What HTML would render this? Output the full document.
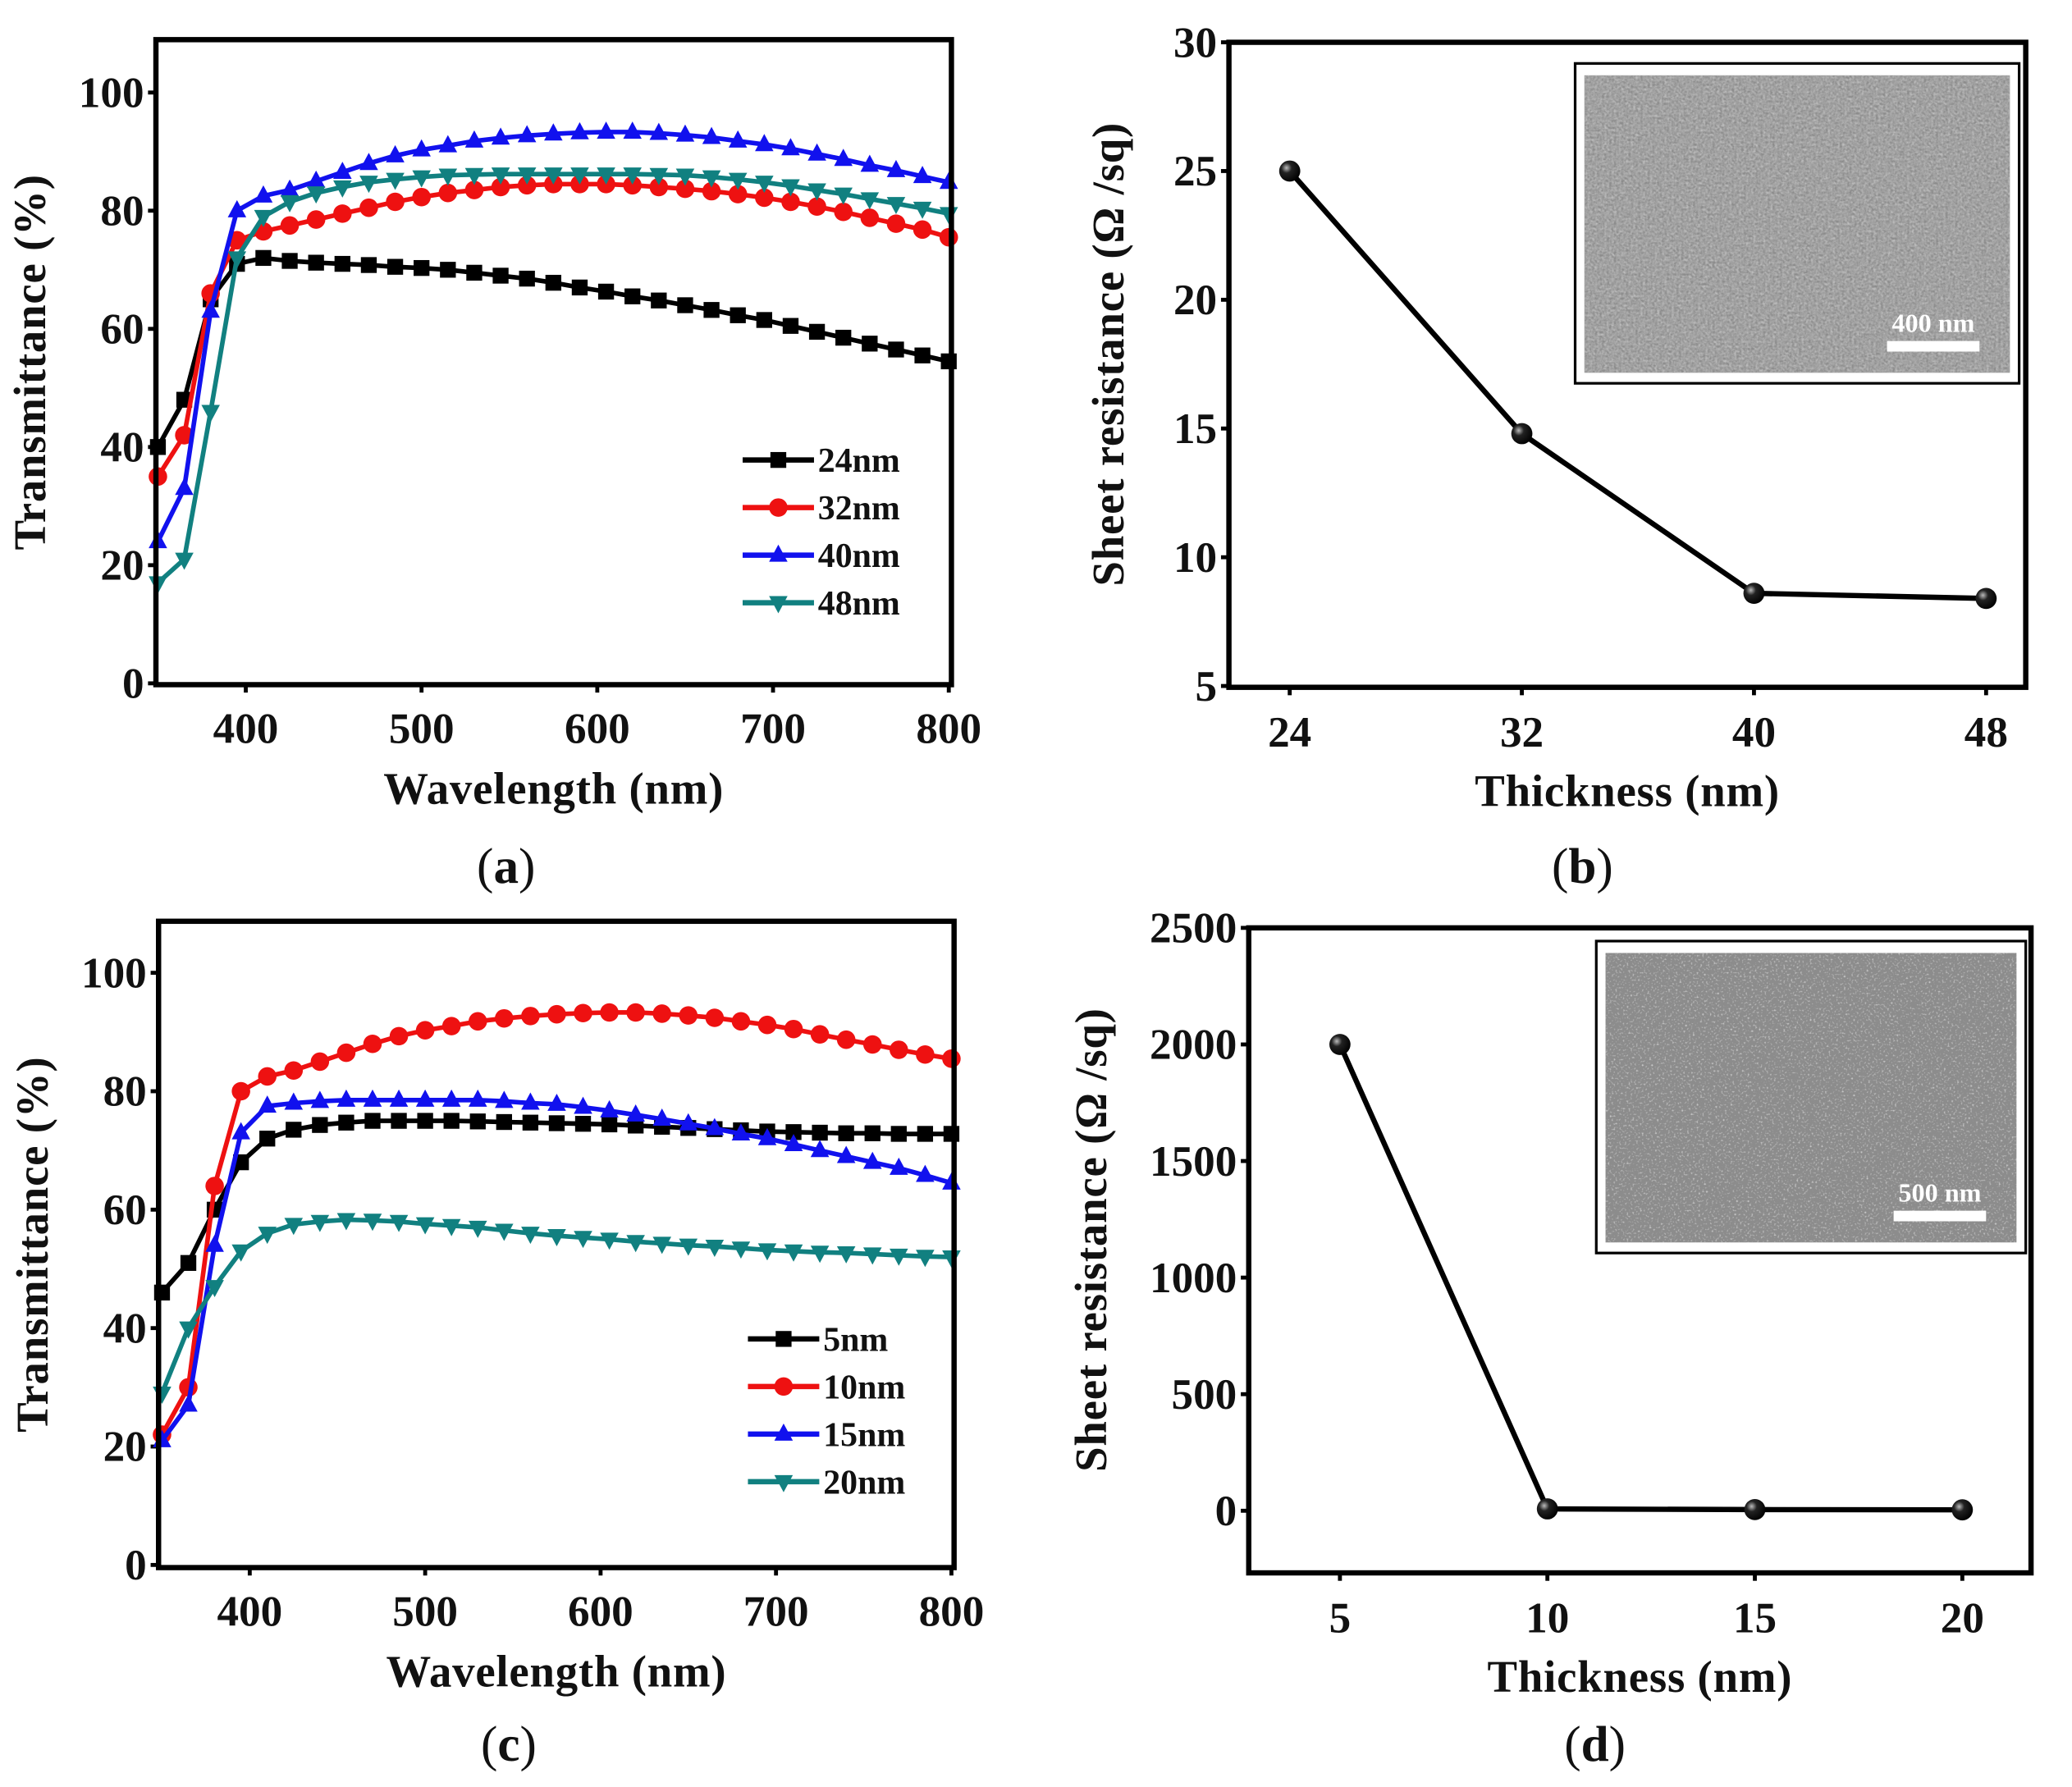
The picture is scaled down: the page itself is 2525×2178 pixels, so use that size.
<!DOCTYPE html>
<html><head><meta charset="utf-8"><style>
html,body{margin:0;padding:0;background:#fff;}
svg{display:block;}
text{font-family:"Liberation Serif",serif;font-weight:bold;fill:#111;}
</style></head><body>
<svg id="fig" width="2525" height="2178" viewBox="0 0 1568 1352" preserveAspectRatio="none" xmlns="http://www.w3.org/2000/svg">
<defs>
<filter id="semA" x="0" y="0" width="1" height="1"><feTurbulence type="fractalNoise" baseFrequency="0.55" numOctaves="2" seed="3"/><feColorMatrix type="matrix" values="0 0 0 0 0.5  0 0 0 0 0.5  0 0 0 0 0.5  0.9 0.9 0.9 0 -0.9"/><feComposite in2="SourceGraphic" operator="in"/></filter>
<filter id="semD" x="0" y="0" width="1" height="1"><feTurbulence type="fractalNoise" baseFrequency="0.7" numOctaves="1" seed="7"/><feColorMatrix type="matrix" values="0 0 0 0 1  0 0 0 0 1  0 0 0 0 1  2 0 0 0 -1.1"/><feComposite in2="SourceGraphic" operator="in"/></filter>
<radialGradient id="ball" cx="0.35" cy="0.35" r="0.7"><stop offset="0" stop-color="#bbb"/><stop offset="0.35" stop-color="#222"/><stop offset="1" stop-color="#000"/></radialGradient>
</defs>
</svg>
<script>
// ---------- data ----------
const wlA = [350,365,380,395,410,425,440,455,470,485,500,515,530,545,560,575,590,605,620,635,650,665,680,695,710,725,740,755,770,785,800];
const a24 = [40,48,65,71,72,71.5,71.2,71,70.8,70.5,70.3,70,69.5,69,68.5,67.8,67,66.3,65.5,64.8,64,63.2,62.3,61.5,60.5,59.5,58.5,57.5,56.5,55.5,54.5];
const a32 = [35,42,66,75,76.5,77.5,78.5,79.5,80.5,81.5,82.3,83,83.5,84,84.3,84.5,84.5,84.5,84.3,84,83.7,83.3,82.8,82.2,81.5,80.7,79.8,78.8,77.8,76.8,75.5];
const a40 = [24,33,63,80,82.5,83.5,85,86.5,88,89.3,90.3,91,91.8,92.3,92.7,93,93.2,93.3,93.3,93.1,92.8,92.4,91.8,91.2,90.5,89.6,88.7,87.7,86.8,85.8,84.8];
const a48 = [17,21,46,72,79,81.5,83,84,84.8,85.3,85.7,86,86.1,86.2,86.2,86.2,86.2,86.2,86.2,86.1,86,85.7,85.3,84.8,84.2,83.5,82.8,82,81.2,80.4,79.5];
const c5  = [46,51,60,68,72,73.5,74.3,74.7,75,75,75,75,74.9,74.8,74.7,74.6,74.5,74.4,74.2,74,73.8,73.6,73.4,73.2,73.1,73,72.9,72.9,72.8,72.8,72.8];
const c10 = [22,30,64,80,82.5,83.5,85,86.5,88,89.3,90.3,91,91.8,92.3,92.7,93,93.2,93.3,93.3,93.1,92.8,92.4,91.8,91.2,90.5,89.6,88.7,87.9,87,86.2,85.5];
const c15 = [21,27,54,73,77.5,78,78.3,78.5,78.5,78.5,78.5,78.5,78.5,78.3,78,77.8,77.3,76.7,76,75.3,74.5,73.7,72.8,72,71,70,69,68,67,65.8,64.5];
const c20 = [29,40,47,53,56,57.5,58,58.3,58.2,58,57.6,57.3,57,56.5,56,55.6,55.3,55,54.6,54.3,54,53.8,53.5,53.2,53,52.8,52.7,52.5,52.3,52.1,52];
const thickB = [24,32,40,48];
const resB = [25,14.8,8.6,8.4];
const thickD = [5,10,15,20];
const resD = [2000,8,5,4];
const ticksT = [0,20,40,60,80,100];
const ticksWl = [400,500,600,700,800];
const ticksB = [5,10,15,20,25,30];
const ticksD = [0,500,1000,1500,2000,2500];

const NS="http://www.w3.org/2000/svg";
const svg=document.getElementById('fig');
function el(tag,attrs,parent,txt){const e=document.createElementNS(NS,tag);for(const k in attrs)e.setAttribute(k,attrs[k]);if(txt!==undefined)e.textContent=txt;(parent||svg).appendChild(e);return e;}
function lin(d0,d1,r0,r1){return v=>r0+(v-d0)*(r1-r0)/(d1-d0);}
const TICK=33, TITLE=34;

function marker(g,type,x,y,color){
  const s=7;let m;
  if(type==='sq') m=el('rect',{x:x-s+1,y:y-s+1,width:2*s-2,height:2*s-2,fill:color},g);
  else if(type==='ci') m=el('circle',{cx:x,cy:y,r:s,fill:color},g);
  else if(type==='up') m=el('polygon',{points:`${x},${y-s-1} ${x-s},${y+s-2} ${x+s},${y+s-2}`,fill:color},g);
  else if(type==='dn') m=el('polygon',{points:`${x},${y+s+1} ${x-s},${y-s+2} ${x+s},${y-s+2}`,fill:color},g);
  else m=el('circle',{cx:x,cy:y,r:8,fill:'url(#ball)'},g);
  return m;
}

function frame(name,L,R,T,B){
  const f=el('rect',{x:L,y:T,width:R-L,height:B-T,fill:'none',stroke:'#000','stroke-width':4});
  
  
}

function panelLabel(g,x,y,letter){
  const lt=el('text',{x:x,y:y,'font-size':38,'text-anchor':'middle','font-weight':'normal'},g);
  
  
  el('tspan',{'font-weight':'normal'},lt,'(');
  el('tspan',{'font-weight':'bold'},lt,letter);
  el('tspan',{'font-weight':'normal'},lt,')');
}

function panelT(id,L,R,T,B,sx,sy,series,legendX,legendY,letter,letterY){
  const g=el('g',{});
  
  
  ticksT.forEach(t=>{const y=sy(t);el('line',{x1:L-6,x2:L,y1:y,y2:y,stroke:'#000','stroke-width':3},g);
    const tx=el('text',{x:L-9,y:y+11,'text-anchor':'end','font-size':TICK},g,t);
    
    });
  ticksWl.forEach(t=>{const x=sx(t);el('line',{x1:x,x2:x,y1:B,y2:B+6,stroke:'#000','stroke-width':3},g);
    const tx=el('text',{x:x,y:B+44,'text-anchor':'middle','font-size':TICK},g,t);
    
    });
  series.forEach(s=>{
    const sg=el('g',{},g);
    
    
    const pts=wlA.map((w,i)=>sx(w).toFixed(1)+','+sy(s.v[i]).toFixed(1)).join(' ');
    el('polyline',{points:pts,fill:'none',stroke:s.c,'stroke-width':3.5},sg);
    wlA.forEach((w,i)=>marker(sg,s.m,sx(w),sy(s.v[i]),s.c));
  });
  series.forEach((s,i)=>{
    const y=legendY+i*36;
    const lg=el('g',{},g);
    
    
    el('line',{x1:legendX,x2:legendX+54,y1:y,y2:y,stroke:s.c,'stroke-width':4},lg);
    marker(lg,s.m,legendX+27,y,s.c);
    el('text',{x:legendX+57,y:y+9,'font-size':26},lg,s.label);
  });
  frame('panel-'+id,L,R,T,B);
  const yt=el('text',{x:0,y:0,'font-size':TITLE,'text-anchor':'middle',transform:`translate(${L-84},${(T+B)/2}) rotate(-90)`,'letter-spacing':0.5},g,'Transmittance (%)');
  
  
  const xt=el('text',{x:(L+R)/2,y:B+90,'font-size':TITLE,'text-anchor':'middle','letter-spacing':0.5},g,'Wavelength (nm)');
  
  
  panelLabel(g,(L+R)/2-36,letterY,letter);
}

function panelR(id,L,R,T,B,sx,sy,xs,ys,xticks,yticks,inset,filt,scale,letter,letterY,titleOff){
  const g=el('g',{});
  
  
  yticks.forEach(t=>{const y=sy(t);el('line',{x1:L-6,x2:L,y1:y,y2:y,stroke:'#000','stroke-width':3},g);
    const tx=el('text',{x:L-9,y:y+11,'text-anchor':'end','font-size':TICK},g,t);
    
    });
  xticks.forEach(t=>{const x=sx(t);el('line',{x1:x,x2:x,y1:B,y2:B+6,stroke:'#000','stroke-width':3},g);
    const tx=el('text',{x:x,y:B+45,'text-anchor':'middle','font-size':TICK},g,t);
    
    });
  const ig=el('g',{},g);
  
  
  el('rect',{x:inset[0],y:inset[1],width:inset[2],height:inset[3],fill:'#fff',stroke:'#000','stroke-width':2},ig);
  el('rect',{x:inset[0]+7,y:inset[1]+9,width:inset[2]-14,height:inset[3]-17,fill:'#8c8c8c'},ig);
  el('rect',{x:inset[0]+7,y:inset[1]+9,width:inset[2]-14,height:inset[3]-17,fill:'#888',filter:'url(#'+filt+')'},ig);
  const bx=inset[0]+inset[2]-100, by=inset[1]+inset[3]-32;
  el('rect',{x:bx,y:by,width:70,height:8,fill:'#fff'},ig);
  el('text',{x:bx+35,y:by-7,'text-anchor':'middle','font-size':20,style:'fill:#fff'},ig,scale);
  const pts=xs.map((x,i)=>sx(x)+','+sy(ys[i])).join(' ');
  const ln=el('polyline',{points:pts,fill:'none',stroke:'#000','stroke-width':4},g);
  
  
  xs.forEach((x,i)=>{const m=marker(g,'ball',sx(x),sy(ys[i]),'#000');
    
    });
  frame('panel-'+id,L,R,T,B);
  const yt=el('text',{x:0,y:0,'font-size':TITLE,'text-anchor':'middle',transform:`translate(${L-titleOff},${(T+B)/2-8}) rotate(-90)`,'letter-spacing':0.5},g,'Sheet resistance (Ω /sq)');
  
  
  const xt=el('text',{x:(L+R)/2,y:B+90,'font-size':TITLE,'text-anchor':'middle','letter-spacing':0.5},g,'Thickness (nm)');
  
  
  panelLabel(g,(L+R)/2-34,letterY,letter);
}

panelT('a',118,720,30,518,lin(400,800,186,718),lin(0,100,517,70),[
 {label:'24nm',v:a24,c:'#000',m:'sq'},{label:'32nm',v:a32,c:'#ee1111',m:'ci'},
 {label:'40nm',v:a40,c:'#1111ee',m:'up'},{label:'48nm',v:a48,c:'#118080',m:'dn'}],562,348,'a',668);
panelT('c',120,722,697,1186,lin(400,800,189,720),lin(0,100,1184,736),[
 {label:'5nm',v:c5,c:'#000',m:'sq'},{label:'10nm',v:c10,c:'#ee1111',m:'ci'},
 {label:'15nm',v:c15,c:'#1111ee',m:'up'},{label:'20nm',v:c20,c:'#118080',m:'dn'}],566,1013,'c',1332);
panelR('b',930,1533,32,520,lin(24,48,976,1503),lin(5,30,519,32),thickB,resB,thickB,ticksB,[1192,48,336,242],'semA','400 nm','b',668,80);
panelR('d',945,1537,702,1190,lin(5,20,1014,1485),lin(0,2500,1143,702),thickD,resD,thickD,ticksD,[1208,712,325,236],'semD','500 nm','d',1332,108);
</script>
</body></html>
